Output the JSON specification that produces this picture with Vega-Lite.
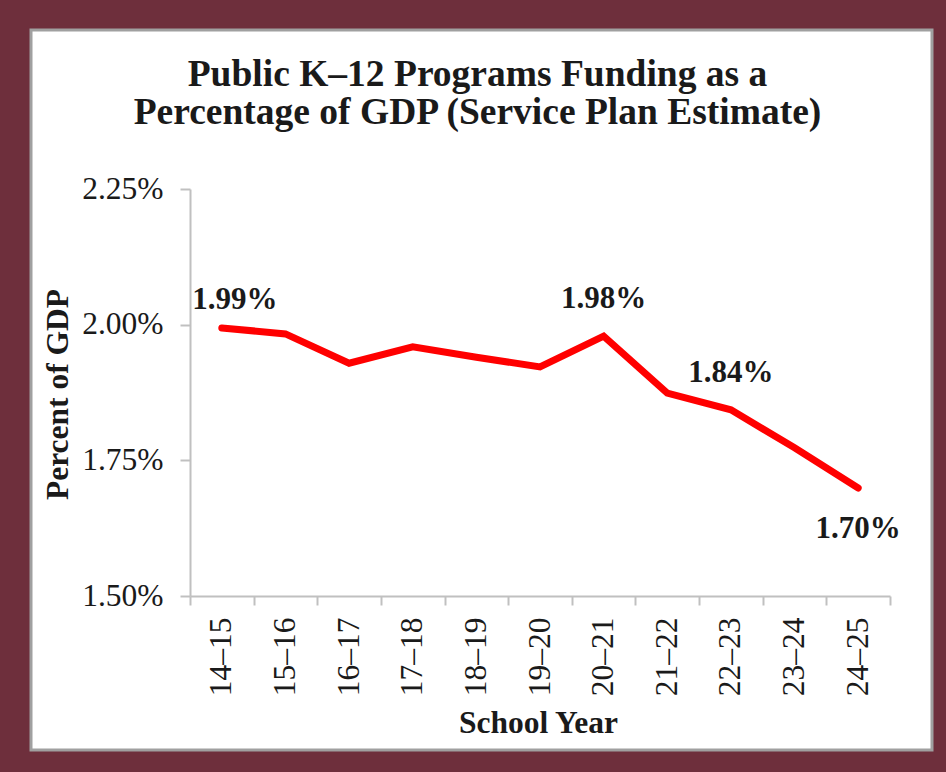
{
  "$schema": "https://vega.github.io/schema/vega-lite/v6.json",
  "autosize": {"type": "none"},
  "width": 901,
  "height": 720,
  "padding": {"left": 31, "top": 30, "right": 14, "bottom": 22},
  "background": "#6e2f3c",
  "title": {
    "text": ["Public K–12 Programs Funding as a", "Percentage of GDP (Service Plan Estimate)"],
    "anchor": "middle",
    "frame": "group",
    "orient": "top",
    "offset": -131,
    "baseline": "alphabetic",
    "lineHeight": 38,
    "dx": -4,
    "font": "Liberation Serif",
    "fontSize": 37.5,
    "fontWeight": "bold",
    "color": "#1a1a1a"
  },
  "data": {
    "values": [
      {"year": "14–15", "pct": 0.01994},
      {"year": "15–16", "pct": 0.01983},
      {"year": "16–17", "pct": 0.01929},
      {"year": "17–18", "pct": 0.01959},
      {"year": "18–19", "pct": 0.01940},
      {"year": "19–20", "pct": 0.01922},
      {"year": "20–21", "pct": 0.01979},
      {"year": "21–22", "pct": 0.01874},
      {"year": "22–23", "pct": 0.01843},
      {"year": "23–24", "pct": 0.01773},
      {"year": "24–25", "pct": 0.01699}
    ]
  },
  "encoding": {
    "x": {
      "field": "year",
      "type": "ordinal",
      "sort": null,
      "scale": {"type": "band", "range": [159, 859], "paddingInner": 0, "paddingOuter": 0},
      "axis": {
        "orient": "bottom",
        "offset": -154,
        "domain": true,
        "domainColor": "#c0c0c0",
        "domainWidth": 2,
        "grid": false,
        "tickBand": "extent",
        "tickSize": 9,
        "tickWidth": 2,
        "tickColor": "#c0c0c0",
        "labelAngle": -90,
        "labelPadding": 12,
        "labelFont": "Liberation Serif",
        "labelFontSize": 31.5,
        "labelColor": "#1a1a1a",
        "title": "School Year",
        "titleFont": "Liberation Serif",
        "titleFontSize": 31.5,
        "titleFontWeight": "bold",
        "titleColor": "#1a1a1a",
        "titleX": 507,
        "titleY": 136,
        "titleAlign": "center",
        "titleBaseline": "alphabetic",
        "titleAngle": 0
      }
    },
    "y": {
      "field": "pct",
      "type": "quantitative",
      "scale": {"domain": [0.015, 0.0225], "range": [566, 159], "nice": false, "zero": false},
      "axis": {
        "orient": "left",
        "offset": -159,
        "domain": true,
        "domainColor": "#c0c0c0",
        "domainWidth": 2,
        "grid": false,
        "values": [0.015, 0.0175, 0.02, 0.0225],
        "format": ".2%",
        "tickSize": 10,
        "tickWidth": 2,
        "tickColor": "#c0c0c0",
        "labelPadding": 17,
        "labelFont": "Liberation Serif",
        "labelFontSize": 31.5,
        "labelColor": "#1a1a1a",
        "title": "Percent of GDP",
        "titleFont": "Liberation Serif",
        "titleFontSize": 31.5,
        "titleFontWeight": "bold",
        "titleColor": "#1a1a1a",
        "titleX": -123,
        "titleY": 364,
        "titleAngle": -90,
        "titleAlign": "center",
        "titleBaseline": "alphabetic"
      }
    }
  },
  "layer": [
    {
      "mark": {"type": "line", "color": "#ff0000", "strokeWidth": 7, "strokeCap": "round", "strokeJoin": "miter"}
    },
    {
      "transform": [{"filter": {"field": "year", "equal": "14–15"}}],
      "mark": {"type": "text", "font": "Liberation Serif", "fontSize": 31, "fontWeight": "bold", "color": "#1a1a1a", "baseline": "alphabetic", "align": "center", "dx": 13, "dy": -19},
      "encoding": {"text": {"field": "pct", "format": ".2%"}}
    },
    {
      "transform": [{"filter": {"field": "year", "oneOf": ["20–21", "22–23"]}}],
      "mark": {"type": "text", "font": "Liberation Serif", "fontSize": 31, "fontWeight": "bold", "color": "#1a1a1a", "baseline": "alphabetic", "align": "center", "dy": -28},
      "encoding": {"text": {"field": "pct", "format": ".2%"}}
    },
    {
      "transform": [{"filter": {"field": "year", "equal": "24–25"}}],
      "mark": {"type": "text", "font": "Liberation Serif", "fontSize": 31, "fontWeight": "bold", "color": "#1a1a1a", "baseline": "alphabetic", "align": "center", "dy": 50},
      "encoding": {"text": {"field": "pct", "format": ".2%"}}
    }
  ],
  "config": {
    "view": {"fill": "white", "stroke": "#a0a0a0", "strokeWidth": 3}
  }
}
